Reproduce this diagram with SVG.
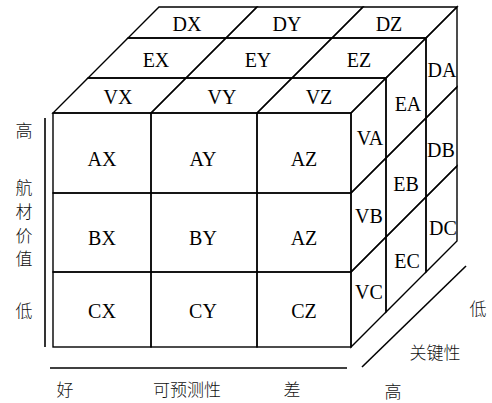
<svg xmlns="http://www.w3.org/2000/svg" width="492" height="403" viewBox="0 0 492 403">
<style>
.c{fill:none;stroke:#000;stroke-width:1.4;stroke-linejoin:miter}
.ax{fill:none;stroke:#000;stroke-width:1.6}
.t{font-family:"Liberation Serif","Times New Roman","DejaVu Serif",serif;font-size:20px;fill:#000;text-anchor:middle}
.z{font-family:"Noto Sans CJK SC","Noto Sans CJK JP",sans-serif;font-size:17px;fill:#111;text-anchor:middle;font-weight:300}
</style>
<rect width="492" height="403" fill="#fff"/>
<g id="front">
<g id="AX"><rect class="c" x="53" y="113" width="98" height="80"/><text class="t" x="102" y="166">AX</text></g>
<g id="AY"><rect class="c" x="151" y="113" width="106" height="80"/><text class="t" x="203" y="166">AY</text></g>
<g id="AZ1"><rect class="c" x="257" y="113" width="94" height="80"/><text class="t" x="304" y="166">AZ</text></g>
<g id="BX"><rect class="c" x="53" y="193" width="98" height="79"/><text class="t" x="102" y="245">BX</text></g>
<g id="BY"><rect class="c" x="151" y="193" width="106" height="79"/><text class="t" x="203" y="245">BY</text></g>
<g id="AZ2"><rect class="c" x="257" y="193" width="94" height="79"/><text class="t" x="304" y="245">AZ</text></g>
<g id="CX"><rect class="c" x="53" y="272" width="98" height="75"/><text class="t" x="102" y="318">CX</text></g>
<g id="CY"><rect class="c" x="151" y="272" width="106" height="75"/><text class="t" x="203" y="318">CY</text></g>
<g id="CZ"><rect class="c" x="257" y="272" width="94" height="75"/><text class="t" x="304" y="318">CZ</text></g>
</g>
<g id="top">
<g id="VX"><polygon class="c" points="53,113 151,113 186,78 88,78"/><text class="t" x="118" y="104">VX</text></g>
<g id="VY"><polygon class="c" points="151,113 257,113 292,78 186,78"/><text class="t" x="222" y="104">VY</text></g>
<g id="VZ"><polygon class="c" points="257,113 351,113 386,78 292,78"/><text class="t" x="319" y="104">VZ</text></g>
<g id="EX"><polygon class="c" points="88,78 186,78 226,38 128,38"/><text class="t" x="156" y="67">EX</text></g>
<g id="EY"><polygon class="c" points="186,78 292,78 332,38 226,38"/><text class="t" x="258" y="67">EY</text></g>
<g id="EZ"><polygon class="c" points="292,78 386,78 426,38 332,38"/><text class="t" x="359" y="67">EZ</text></g>
<g id="DX"><polygon class="c" points="128,38 226,38 257,7 159,7"/><text class="t" x="187" y="31">DX</text></g>
<g id="DY"><polygon class="c" points="226,38 332,38 363,7 257,7"/><text class="t" x="287" y="31">DY</text></g>
<g id="DZ"><polygon class="c" points="332,38 426,38 457,7 363,7"/><text class="t" x="389" y="31">DZ</text></g>
</g>
<g id="side">
<g id="VA"><polygon class="c" points="351,113 386,78 386,158 351,193"/><text class="t" x="370" y="145">VA</text></g>
<g id="VB"><polygon class="c" points="351,193 386,158 386,237 351,272"/><text class="t" x="369" y="223">VB</text></g>
<g id="VC"><polygon class="c" points="351,272 386,237 386,312 351,347"/><text class="t" x="369" y="299">VC</text></g>
<g id="EA"><polygon class="c" points="386,78 426,38 426,118 386,158"/><text class="t" x="408" y="111">EA</text></g>
<g id="EB"><polygon class="c" points="386,158 426,118 426,197 386,237"/><text class="t" x="406" y="191">EB</text></g>
<g id="EC"><polygon class="c" points="386,237 426,197 426,272 386,312"/><text class="t" x="407" y="268">EC</text></g>
<g id="DA"><polygon class="c" points="426,38 457,7 457,87 426,118"/><text class="t" x="442" y="77">DA</text></g>
<g id="DB"><polygon class="c" points="426,118 457,87 457,166 426,197"/><text class="t" x="441" y="157">DB</text></g>
<g id="DC"><polygon class="c" points="426,197 457,166 457,241 426,272"/><text class="t" x="443" y="235">DC</text></g>
</g>
<g id="connectors">
<line class="ax" x1="45" y1="118" x2="45" y2="347"/>
<line class="ax" x1="50" y1="368" x2="347" y2="368"/>
<line class="ax" x1="362" y1="367" x2="466" y2="266"/>
</g>
<g id="axis-value">
<text class="z" x="24" y="137">高</text>
<text class="z" x="24" y="194">航</text>
<text class="z" x="24" y="218">材</text>
<text class="z" x="24" y="242">价</text>
<text class="z" x="24" y="265">值</text>
<text class="z" x="24" y="317">低</text>
</g>
<g id="axis-predict">
<text class="z" x="65" y="396">好</text>
<text class="z" x="187" y="396">可预测性</text>
<text class="z" x="292" y="396">差</text>
</g>
<g id="axis-critical">
<text class="z" x="478" y="315">低</text>
<text class="z" x="435" y="359">关键性</text>
<text class="z" x="393" y="398">高</text>
</g>
</svg>
